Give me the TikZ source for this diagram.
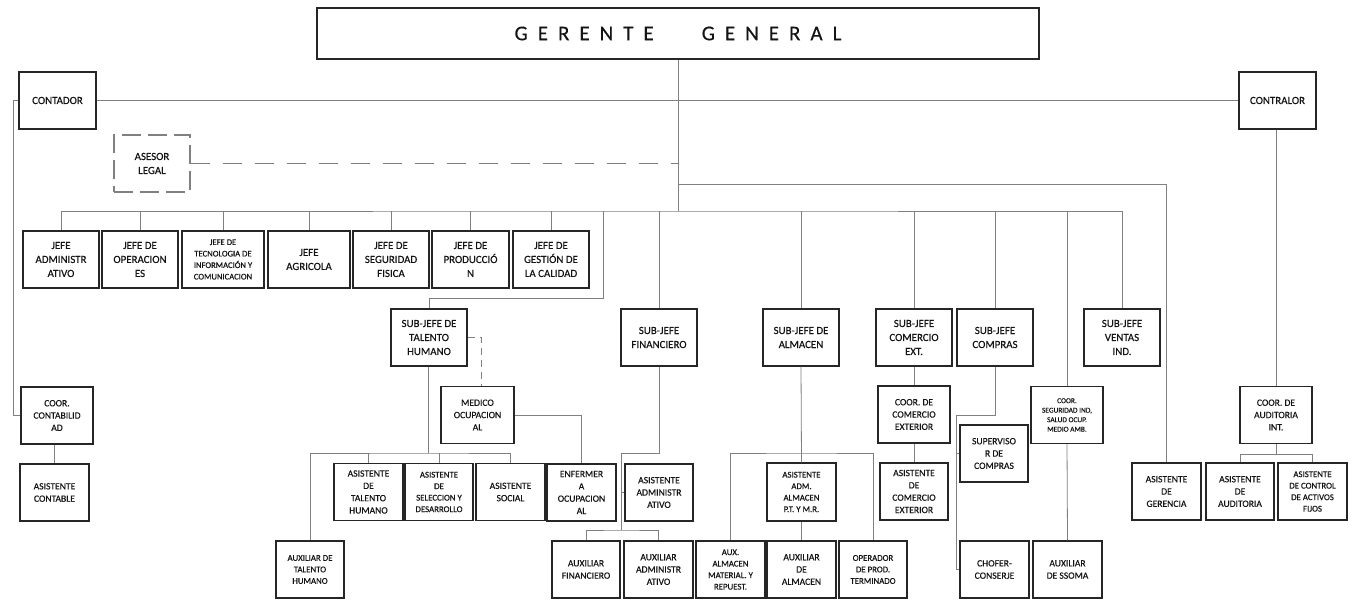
\documentclass[tikz,border=0pt]{standalone}
\usepackage{fontspec}
\setmainfont{Carlito}
\newfontfamily\orgfont{Carlito}[FakeBold=0.3]
\usepackage{tikz}
\usetikzlibrary{positioning}
\definecolor{boxline}{RGB}{38,38,38}
\definecolor{linkline}{RGB}{128,128,128}
\definecolor{labeltext}{RGB}{20,20,20}
\newcommand{\gsp}{\kern10pt}
\tikzset{
    orgbox/.style={
        rectangle,
        draw=boxline,
        line width=1.3pt,
        fill=white,
        align=center,
        inner sep=1pt,
        text=labeltext,
        minimum width=76pt,
        minimum height=57pt,
        font=\orgfont\fontsize{10.9}{14}\selectfont
    },
    subbox/.style={
        orgbox,
        minimum width=69pt,
        font=\orgfont\fontsize{9.6}{12.3}\selectfont
    },
    smallbox/.style={
        subbox,
        font=\orgfont\fontsize{8.8}{11.5}\selectfont
    },
    tinybox/.style={
        subbox,
        font=\orgfont\fontsize{7.4}{9.5}\selectfont
    },
    advisorbox/.style={
        orgbox,
        draw=linkline,
        line width=1.2pt,
        dash pattern=on 19pt off 7pt
    },
    link/.style={
        draw=linkline,
        line width=0.8pt
    },
    dashlink/.style={
        link,
        dash pattern=on 19pt off 13pt
    }
}

\begin{document}
\begin{tikzpicture}[x=1pt, y=-1pt]
\useasboundingbox (0,0) rectangle (1354,604);
\fill[white] (0,0) rectangle (1354,604);
% Direccion
\node[orgbox, minimum width=722pt, minimum height=51pt, font=\orgfont\fontsize{21}{24}\selectfont] (gerente) at (678,33.5)
    {G\gsp E\gsp R\gsp E\gsp N\gsp T\gsp E\kern48pt G\gsp E\gsp N\gsp E\gsp R\gsp A\gsp L};
\node[orgbox, minimum width=77pt] (contador) at (57.5,100.5) {CONTADOR};
\node[orgbox, minimum width=77pt] (contralor) at (1277.5,100.5) {CONTRALOR};
\node[advisorbox] (asesor) at (152,163.5) {ASESOR\\LEGAL};
\coordinate (gk) at (678,184);
\coordinate (hub) at (678,211);

% Jefaturas
\node[orgbox] (jadmin) at (61,259.5) {JEFE\\ADMINISTR\\ATIVO};
\node[orgbox] (joper) at (140,259.5) {JEFE DE\\OPERACION\\ES};
\node[orgbox, minimum width=82pt, font=\orgfont\fontsize{8.6}{11.5}\selectfont] (jtic) at (223,259.5)
    {JEFE DE\\TECNOLOGIA DE\\INFORMACIÓN Y\\COMUNICACION};
\node[orgbox, minimum width=82pt] (jagri) at (309,259.5) {JEFE\\AGRICOLA};
\node[orgbox] (jseg) at (391,259.5) {JEFE DE\\SEGURIDAD\\FISICA};
\node[orgbox, minimum width=77pt] (jprod) at (470.5,259.5) {JEFE DE\\PRODUCCIÓ\\N};
\node[orgbox] (jcal) at (551,259.5) {JEFE DE\\GESTIÓN DE\\LA CALIDAD};

% Sub-jefaturas
\node[orgbox] (sjth) at (429,337.5) {SUB-JEFE DE\\TALENTO\\HUMANO};
\node[orgbox] (sjfin) at (659,337.5) {SUB-JEFE\\FINANCIERO};
\node[orgbox] (sjalm) at (801,337.5) {SUB-JEFE DE\\ALMACEN};
\node[orgbox] (sjcom) at (914,337.5) {SUB-JEFE\\COMERCIO\\EXT.};
\node[orgbox] (sjcomp) at (995,337.5) {SUB-JEFE\\COMPRAS};
\node[orgbox] (sjven) at (1122,337.5) {SUB-JEFE\\VENTAS\\IND.};

% Coordinaciones
\node[subbox, minimum width=72pt] (coorcont) at (57,415.5) {COOR.\\CONTABILID\\AD};
\node[subbox, minimum width=73pt] (medico) at (477.5,415) {MEDICO\\OCUPACION\\AL};
\node[subbox, minimum width=72pt] (coorcom) at (914,414.5) {COOR. DE\\COMERCIO\\EXTERIOR};
\node[tinybox, minimum width=72pt] (coorseg) at (1067,415) {COOR.\\SEGURIDAD IND,\\SALUD OCUP.\\MEDIO AMB.};
\node[subbox, minimum width=72pt] (cooraud) at (1276,415) {COOR. DE\\AUDITORIA\\INT.};
\node[subbox, minimum width=68pt] (superv) at (994,453.5) {SUPERVISO\\R DE\\COMPRAS};

% Asistentes
\node[subbox] (asiscont) at (54.5,492.5) {ASISTENTE\\CONTABLE};
\node[subbox] (asisth) at (368.5,492) {ASISTENTE\\DE\\TALENTO\\HUMANO};
\node[smallbox, minimum width=68pt] (asissel) at (439,492) {ASISTENTE\\DE\\SELECCION Y\\DESARROLLO};
\node[subbox] (asissoc) at (510.5,492) {ASISTENTE\\SOCIAL};
\node[subbox] (enferm) at (581.5,492.5) {ENFERMER\\A\\OCUPACION\\AL};
\node[subbox, minimum width=68pt] (asisadm) at (659,492.5) {ASISTENTE\\ADMINISTR\\ATIVO};
\node[smallbox, minimum width=69pt, minimum height=58pt] (asisalm) at (801.5,492) {ASISTENTE\\ADM.\\ALMACEN\\P.T. Y M.R.};
\node[subbox, minimum width=68pt] (asiscomex) at (914,491.5) {ASISTENTE\\DE\\COMERCIO\\EXTERIOR};
\node[subbox] (asisger) at (1166.5,491.5) {ASISTENTE\\DE\\GERENCIA};
\node[subbox, minimum width=68pt] (asisaud) at (1240,491.5) {ASISTENTE\\DE\\AUDITORIA};
\node[smallbox] (asisact) at (1312.5,491.5) {ASISTENTE\\DE CONTROL\\DE ACTIVOS\\FIJOS};

% Auxiliares
\node[smallbox, minimum width=68pt] (auxth) at (310,569.5) {AUXILIAR DE\\TALENTO\\HUMANO};
\node[subbox, minimum width=68pt] (auxfin) at (586,569.5) {AUXILIAR\\FINANCIERO};
\node[subbox] (auxadm) at (658.5,569.5) {AUXILIAR\\ADMINISTR\\ATIVO};
\node[smallbox] (auxmat) at (730.5,569.5) {AUX.\\ALMACEN\\MATERIAL. Y\\REPUEST.};
\node[subbox] (auxalm) at (801.5,569.5) {AUXILIAR\\DE\\ALMACEN};
\node[smallbox, minimum width=68pt] (operador) at (873,569.5) {OPERADOR\\DE PROD.\\TERMINADO};
\node[subbox] (chofer) at (994.5,569.5) {CHOFER-\\CONSERJE};
\node[subbox] (auxssoma) at (1067.5,569.5) {AUXILIAR\\DE SSOMA};

% Lineas de mando
\draw[link] (gerente.south) -- (hub);
\draw[link] (contador) -- (contralor);
\draw[dashlink] (asesor.east) -- (asesor.east -| hub);
\draw[link] (gk) -| (asisger.north);
\draw[link] (jadmin.north) |- (hub) -| (sjven.north);
\foreach \n in {joper,jtic,jagri,jseg,jprod,jcal,sjfin,sjalm,sjcom,sjcomp,coorseg}
    \draw[link] (\n.north) -- (\n.north |- hub);

% Contador y contralor
\draw[link] (contador.west) -- ++(-5,0) |- (coorcont.west);
\draw[link] (asiscont.north) -- (asiscont.north |- coorcont.south);
\draw[link] (cooraud.north) -- (cooraud.north |- contralor.south);
\draw[link] (cooraud.south) -- ++(0,10) -| (asisaud.north);
\draw[link] (cooraud.south) ++(0,10) -| (asisact.north);

% Talento humano
\coordinate (thk) at (603,298);
\coordinate (thbus) at (428,453);
\draw[link] (thk |- hub) -- (thk) -| (sjth.north);
\draw[link] (sjth.south -| thbus) -- (thbus);
\draw[link] (auxth.north) |- (thbus) -| (asissoc.north);
\draw[link] (asisth.north) -- (asisth.north |- thbus);
\draw[link] (asissel.north) -- (asissel.north |- thbus);
\draw[link, dash pattern=on 7pt off 5pt] (sjth.east) -| ([xshift=3.5pt]medico.north);
\draw[link] (medico.east) -| (enferm.north);

% Financiero
\coordinate (fk1) at (621,453);
\coordinate (fk2) at (621,530);
\draw[link] (sjfin.south) |- (fk1) -- (fk2);
\draw[link] (auxfin.north) |- (fk2) -| (auxadm.north);
\draw[link] (asisadm.west) -- (asisadm.west -| fk1);

% Almacen
\coordinate (almbus) at (801,453);
\draw[link] (sjalm.south) -- (asisalm.north);
\draw[link] (asisalm.south) -- (auxalm.north);
\draw[link] (auxmat.north) |- (almbus) -| (operador.north);

% Comercio, compras y seguridad
\draw[link] (sjcom.south) -- (coorcom.north);
\draw[link] (coorcom.south) -- (asiscomex.north);
\coordinate (ck1) at (956,415);
\draw[link] (sjcomp.south) |- (ck1) |- (chofer.west);
\draw[link] (superv.west) -- (superv.west -| ck1);
\draw[link] (coorseg.south) -- (auxssoma.north);
\end{tikzpicture}
\end{document}
